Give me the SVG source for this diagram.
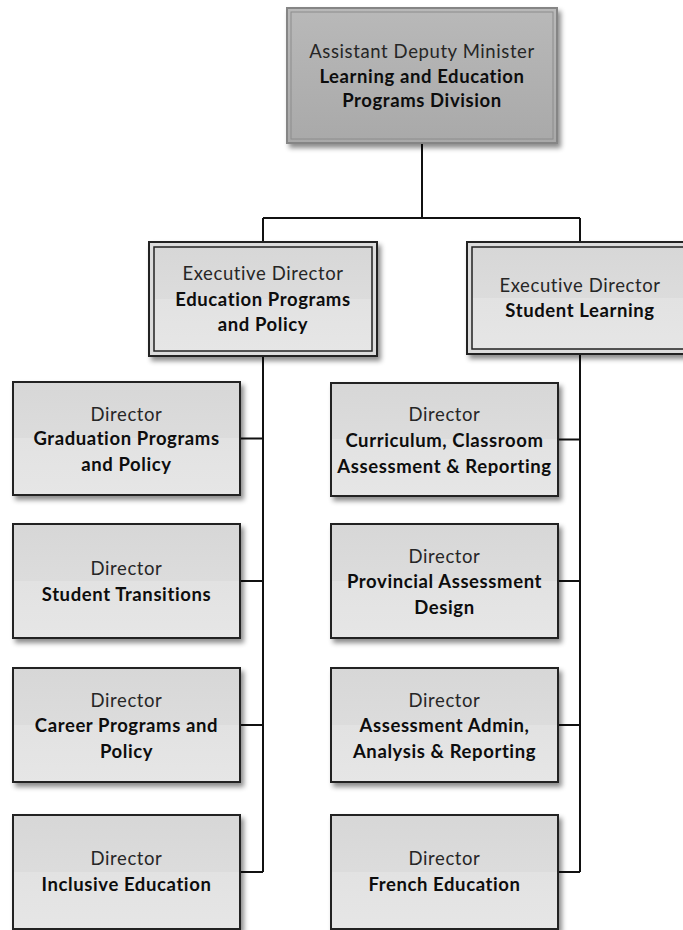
<svg xmlns="http://www.w3.org/2000/svg" width="683" height="930" viewBox="0 0 683 930">
<style>
.t{font-family:Lato,"Open Sans","Liberation Sans",sans-serif;font-size:18.5px;text-anchor:middle;letter-spacing:0.6px}
.r{fill:#262626}
.b{font-weight:bold;fill:#0d0d0d}
.dir{fill:url(#gDir);stroke:#222;stroke-width:2}
.exo{fill:#dcdcdc;stroke:#222;stroke-width:2}
.exi{fill:url(#gDir);stroke:#222;stroke-width:1.5}
.c{fill:none;stroke:#111;stroke-width:2}
</style>
<defs>
<linearGradient id="gDir" x1="0" y1="0" x2="0" y2="1">
<stop offset="0" stop-color="#d7d7d7"/>
<stop offset="0.5" stop-color="#dcdcdc"/>
<stop offset="0.5" stop-color="#e2e2e2"/>
<stop offset="1" stop-color="#e6e6e6"/>
</linearGradient>
<linearGradient id="gTop" x1="0" y1="0" x2="0" y2="1">
<stop offset="0" stop-color="#b9b9b9"/>
<stop offset="1" stop-color="#a9a9a9"/>
</linearGradient>
<filter id="sh" x="-10%" y="-10%" width="125%" height="130%">
<feDropShadow dx="3" dy="4" stdDeviation="2.5" flood-color="#000" flood-opacity="0.45"/>
</filter>
</defs>
<g id="connectors">
<path class="c" d="M422 143V218M263 218H580M263 218V242M580 218V242"/>
<path class="c" d="M263 356V872M240 438.5H263M240 581H263M240 725H263M240 872H263"/>
<path class="c" d="M580 354V872M558 439.5H580M558 581H580M558 725H580M558 872H580"/>
</g>
<g id="adm">
<rect x="287" y="8" width="270" height="135" fill="url(#gTop)" stroke="#858585" stroke-width="2" filter="url(#sh)"/>
<rect x="291" y="12" width="262" height="127" fill="none" stroke="#8c8c8c" stroke-width="1"/>
<text class="t r" x="422" y="58">Assistant Deputy Minister</text>
<text class="t b" x="422" y="83">Learning and Education</text>
<text class="t b" x="422" y="107">Programs Division</text>
</g>
<g id="ed-epp">
<rect class="exo" x="149" y="242" width="228" height="114" filter="url(#sh)"/>
<rect class="exi" x="154" y="247" width="218" height="104"/>
<text class="t r" x="263" y="280">Executive Director</text>
<text class="t b" x="263" y="306">Education Programs</text>
<text class="t b" x="263" y="331">and Policy</text>
</g>
<g id="ed-sl">
<rect class="exo" x="467" y="242" width="226" height="112" filter="url(#sh)"/>
<rect class="exi" x="472" y="247" width="216" height="102"/>
<text class="t r" x="580" y="292">Executive Director</text>
<text class="t b" x="580" y="317">Student Learning</text>
</g>
<g id="d-grad">
<rect class="dir" x="13" y="382" width="227" height="113" filter="url(#sh)"/>
<text class="t r" x="126.5" y="421">Director</text>
<text class="t b" x="126.5" y="445">Graduation Programs</text>
<text class="t b" x="126.5" y="471">and Policy</text>
</g>
<g id="d-st">
<rect class="dir" x="13" y="524" width="227" height="114" filter="url(#sh)"/>
<text class="t r" x="126.5" y="575">Director</text>
<text class="t b" x="126.5" y="601">Student Transitions</text>
</g>
<g id="d-car">
<rect class="dir" x="13" y="668" width="227" height="114" filter="url(#sh)"/>
<text class="t r" x="126.5" y="707">Director</text>
<text class="t b" x="126.5" y="732">Career Programs and</text>
<text class="t b" x="126.5" y="758">Policy</text>
</g>
<g id="d-inc">
<rect class="dir" x="13" y="815" width="227" height="114" filter="url(#sh)"/>
<text class="t r" x="126.5" y="865">Director</text>
<text class="t b" x="126.5" y="891">Inclusive Education</text>
</g>
<g id="d-cur">
<rect class="dir" x="331" y="383" width="227" height="113" filter="url(#sh)"/>
<text class="t r" x="444.5" y="421">Director</text>
<text class="t b" x="444.5" y="447">Curriculum, Classroom</text>
<text class="t b" x="444.5" y="473">Assessment &amp; Reporting</text>
</g>
<g id="d-prov">
<rect class="dir" x="331" y="524" width="227" height="114" filter="url(#sh)"/>
<text class="t r" x="444.5" y="563">Director</text>
<text class="t b" x="444.5" y="588">Provincial Assessment</text>
<text class="t b" x="444.5" y="614">Design</text>
</g>
<g id="d-adm">
<rect class="dir" x="331" y="668" width="227" height="114" filter="url(#sh)"/>
<text class="t r" x="444.5" y="707">Director</text>
<text class="t b" x="444.5" y="732">Assessment Admin,</text>
<text class="t b" x="444.5" y="758">Analysis &amp; Reporting</text>
</g>
<g id="d-fr">
<rect class="dir" x="331" y="815" width="227" height="114" filter="url(#sh)"/>
<text class="t r" x="444.5" y="865">Director</text>
<text class="t b" x="444.5" y="891">French Education</text>
</g>
</svg>
